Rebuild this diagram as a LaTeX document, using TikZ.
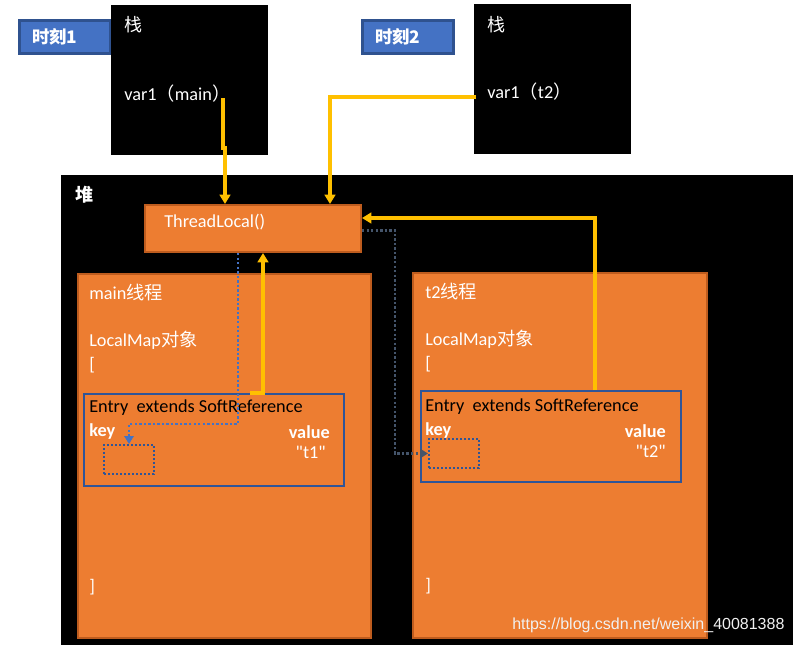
\documentclass[tikz,border=0pt]{standalone}
\usepackage{fontspec}
\setmainfont{Carlito}
\newfontfamily\cjk{Noto Sans CJK SC}
\newfontfamily\wmfont{Liberation Sans}
\usetikzlibrary{arrows.meta, positioning, calc}
\definecolor{Orange}{RGB}{237,125,49}
\definecolor{OrangeLine}{RGB}{190,92,30}
\definecolor{Label}{RGB}{68,114,196}
\definecolor{LabelLine}{RGB}{47,82,143}
\definecolor{Ref}{RGB}{255,192,0}
\definecolor{Weak}{RGB}{68,114,196}
\definecolor{WeakDark}{RGB}{68,84,106}
\definecolor{EntryLine}{RGB}{47,85,151}

\tikzset{
  box/.style 2 args={anchor=north west, inner sep=0pt,
    minimum width=#1*0.75pt, minimum height=#2*0.75pt},
  labelbox/.style={fill=Label, draw=LabelLine, line width=2pt},
  stackbox/.style={fill=black},
  objbox/.style={fill=Orange, draw=OrangeLine, line width=1.5pt},
  entrybox/.style={draw=EntryLine, line width=1.5pt},
  keybox/.style={draw=EntryLine, line width=1.5pt, dash pattern=on 1.5pt off 1.5pt},
  txt/.style={anchor=west, inner sep=0pt, text=white, font=\fontsize{13.7}{16}\selectfont},
  dark/.style={txt, text=black},
  bold/.style={txt, font=\fontsize{13.7}{16}\selectfont\bfseries},
  ref/.style={draw=Ref, line width=2.4pt, -{Triangle[length=7pt, width=8pt]}},
  weak/.style={draw=Weak, line width=1.8pt, dash pattern=on 1.8pt off 1.6pt,
    -{Triangle[length=6pt, width=7pt]}},
  weakdark/.style={weak, draw=WeakDark, -{Triangle[length=6pt, width=7pt, fill=WeakDark]}}
}

\begin{document}
\begin{tikzpicture}[x=0.75pt, y=-0.75pt]
  \useasboundingbox (0,0) rectangle (793,644);

  % moments
  \node[labelbox, box={91}{33}] (moment1) at (18,19) {};
  \node[txt, font=\fontsize{13}{15}\selectfont\bfseries\cjk] (moment1txt) at (32,37) {时刻1};
  \node[labelbox, box={91}{33}] (moment2) at (361,19) {};
  \node[txt, font=\fontsize{13}{15}\selectfont\bfseries\cjk] (moment2txt) at (375,37) {时刻2};

  % stacks
  \node[stackbox, box={157}{150}] (stack1) at (111,5) {};
  \node[txt, font=\fontsize{13.5}{16}\selectfont\cjk] (stack1txt) at (124,25) {栈};
  \node[txt] (var1) at (124,94) {var1{\cjk （}main{\cjk ）}};
  \node[stackbox, box={157}{150}] (stack2) at (474,4) {};
  \node[txt, font=\fontsize{13.5}{16}\selectfont\cjk] (stack2txt) at (487,25) {栈};
  \node[txt] (var2) at (487,92) {var1{\cjk （}t2{\cjk ）}};

  % heap
  \node[stackbox, box={732}{470}] (heap) at (61,175) {};
  \node[txt, font=\fontsize{13.5}{16}\selectfont\bfseries\cjk] (heaptxt) at (75,195) {堆};

  \node[objbox, box={216}{47}] (tl) at (144,204) {};
  \node[txt] (tltxt) at (164,222) {ThreadLocal()};

  % main thread
  \node[objbox, box={293}{364}] (mainth) at (77,273) {};
  \node[txt] (mainname) at (89,293) {main{\cjk 线程}};
  \node[txt] (map1) at (89,340) {LocalMap{\cjk 对象}};
  \node[txt] (open1) at (89,365) {[};
  \node[entrybox, box={260}{92}] (e1) at (83,393) {};
  \node[dark] (e1txt) at (89,408) {Entry\ \ extends SoftReference};
  \node[bold] (key1) at (89,432) {key};
  \node[bold, anchor=east] (val1) at (330,432) {value};
  \node[txt, anchor=east] (t1) at (326,452) {\textquotedbl t1\textquotedbl};
  \node[keybox, box={50}{29}] (kb1) at (103,444) {};
  \node[txt] (close1) at (89,587) {]};

  % t2 thread
  \node[objbox, box={294}{365}] (t2th) at (412,272) {};
  \node[txt] (t2name) at (425,292) {t2{\cjk 线程}};
  \node[txt] (map2) at (425,339) {LocalMap{\cjk 对象}};
  \node[txt] (open2) at (425,364) {[};
  \node[entrybox, box={260}{91}] (e2) at (420,390) {};
  \node[dark] (e2txt) at (425,407) {Entry\ \ extends SoftReference};
  \node[bold] (key2) at (425,431) {key};
  \node[bold, anchor=east] (val2) at (666,431) {value};
  \node[txt, anchor=east] (t2) at (666,451) {\textquotedbl t2\textquotedbl};
  \node[keybox, box={50}{29}] (kb2) at (428,438) {};
  \node[txt] (close2) at (425,586) {]};

  % references
  \coordinate (m1) at (223,98);
  \draw[ref] (m1) -- ++(0,50) -- ++(2,0) coordinate (m1b) -- (m1b |- tl.north);
  \draw[ref] (476,97) -| (330,0 |- tl.north);
  \draw[ref] (595,0 |- e2.north) |- ($(tl.north east)+(0,14)$);
  \draw[ref] (250,0 |- e1.north) -| (263,0 |- tl.south);

  % weak keys
  \draw[weak] (238,0 |- tl.south) |- ($(kb1.north)+(0,-20)$) -- (kb1.north);
  \draw[weakdark] ($(tl.east)+(0,2)$) -| (395,0 |- kb2.west) -- (kb2.west);

  \node[anchor=west, inner sep=0pt, text=white!88!gray, font=\wmfont\fontsize{12}{14}\selectfont]
    (mark) at (512,625) {https://blog.csdn.net/weixin\_40081388};
\end{tikzpicture}
\end{document}
